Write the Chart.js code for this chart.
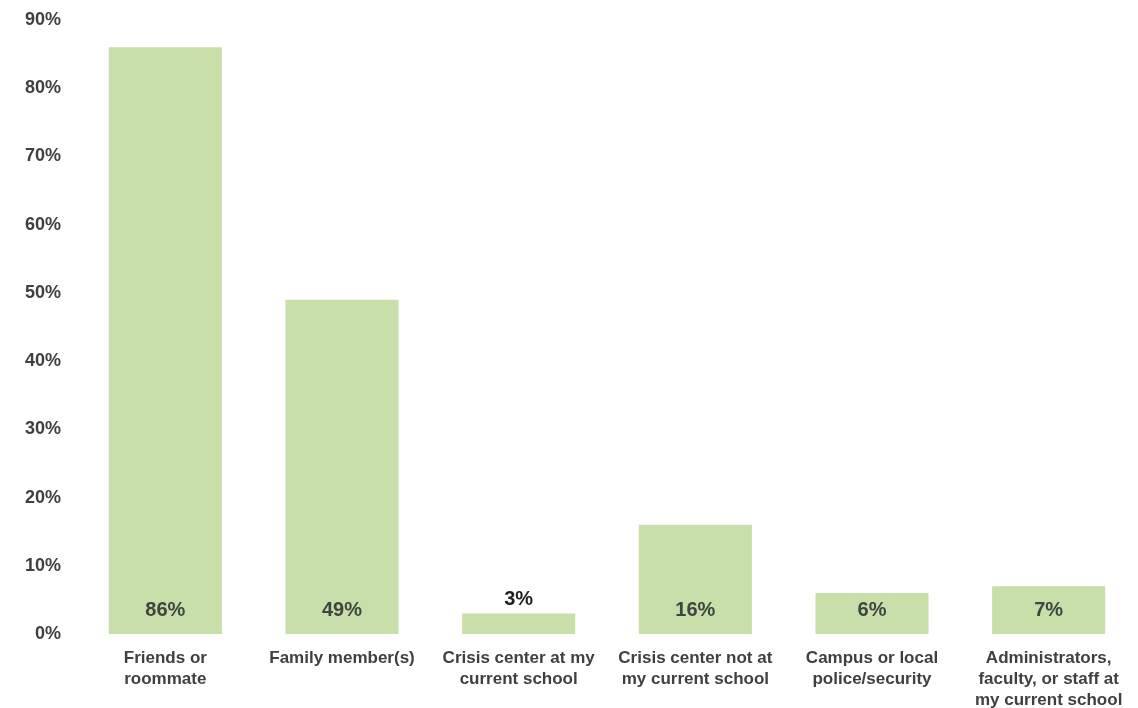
<!DOCTYPE html>
<html>
<head>
<meta charset="utf-8">
<script src="https://cdn.jsdelivr.net/npm/chart.js@4/dist/chart.umd.min.js"></script>
<style>
  html, body { margin: 0; padding: 0; background: #fff; }
  #wrap { width: 1138px; height: 708px; }
</style>
</head>
<body>
<div id="wrap"><canvas id="supportChart"></canvas></div>
<script>
const categories = [
    ['Friends or', 'roommate'],
    ['Family member(s)'],
    ['Crisis center at my', 'current school'],
    ['Crisis center not at', 'my current school'],
    ['Campus or local', 'police/security'],
    ['Administrators,', 'faculty, or staff at', 'my current school'],
];
const percentages = [86, 49, 3, 16, 6, 7];
const yTicks = [0, 10, 20, 30, 40, 50, 60, 70, 80, 90];

const fontFamily = '"Liberation Sans", Arial, Helvetica, sans-serif';

// draws the value labels near the bottom of each bar (above the bar when it is too short)
const valueLabels = {
    id: 'valueLabels',
    afterDatasetsDraw(chart) {
        const ctx = chart.ctx;
        const meta = chart.getDatasetMeta(0);
        ctx.save();
        ctx.font = 'bold 20px ' + fontFamily;
        ctx.textAlign = 'center';
        ctx.textBaseline = 'middle';
        meta.data.forEach((bar, i) => {
            const v = percentages[i];
            const text = v + '%';
            if (bar.base - bar.y < 30) {
                ctx.fillStyle = '#1f1f1f';
                ctx.fillText(text, bar.x, bar.y - 14);
            } else {
                ctx.fillStyle = '#3f4540';
                ctx.fillText(text, bar.x, bar.base - 24);
            }
        });
        ctx.restore();
    },
};

const ctx = document.getElementById('supportChart');
const myChart = new Chart(ctx, {
    type: 'bar',
    data: {
        labels: categories,
        datasets: [
            {
                data: percentages,
                backgroundColor: '#c8dfaa',
                borderWidth: 0,
                barPercentage: 0.64,
                categoryPercentage: 1.0,
            },
        ],
    },
    options: {
        responsive: true,
        maintainAspectRatio: false,
        animation: false,
        layout: {
            padding: { top: 20, right: 1, bottom: 0, left: 0 },
        },
        plugins: {
            legend: { display: false },
            tooltip: { enabled: false },
        },
        scales: {
            x: {
                afterFit: (scale) => {
                    scale.height = 74;
                },
                grid: { display: false, drawTicks: false },
                border: { display: false },
                ticks: {
                    color: '#404040',
                    padding: 14,
                    maxRotation: 0,
                    autoSkip: false,
                    font: { family: fontFamily, size: 17, weight: 'bold', lineHeight: 1.24 },
                },
            },
            y: {
                min: 0,
                max: 90,
                afterBuildTicks: (scale) => {
                    scale.ticks = yTicks.map((v) => ({ value: v }));
                },
                afterFit: (scale) => {
                    scale.width = 77;
                    scale.paddingTop = 0;
                },
                grid: { display: false, drawTicks: false },
                border: { display: false },
                ticks: {
                    color: '#404040',
                    padding: 16,
                    callback: (v) => v + '%',
                    font: { family: fontFamily, size: 18, weight: 'bold' },
                },
            },
        },
    },
    plugins: [valueLabels],
});
</script>
</body>
</html>
